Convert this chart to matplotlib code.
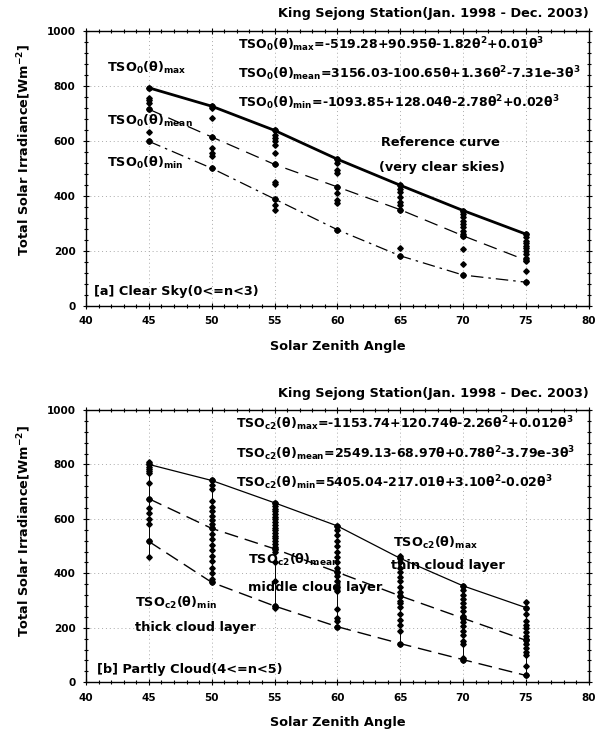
import matplotlib
matplotlib.use("Agg")
import matplotlib.pyplot as plt
from matplotlib.ticker import MultipleLocator

plt.rcParams['font.family'] = ['DejaVu Sans']
plt.rcParams['font.weight'] = 'bold'
plt.rcParams['mathtext.fontset'] = 'custom'
plt.rcParams['mathtext.rm'] = 'DejaVu Sans:bold'
plt.rcParams['mathtext.it'] = 'DejaVu Sans:bold'
plt.rcParams['mathtext.bf'] = 'DejaVu Sans:bold'

# зенитные углы
angles = [45, 50, 55, 60, 65, 70, 75]

# [a] ясное небо - кривые
a_max = [794, 727, 639, 534, 439, 347, 261]
a_mean = [716, 615, 515, 433, 350, 255, 166]
a_min = [599, 501, 389, 277, 182, 112, 86]

# [a] точки измерений по углам
a_pts = {
    45: [794, 756, 748, 740, 716, 632, 599],
    50: [727, 720, 683, 615, 575, 555, 545, 501],
    55: [639, 623, 610, 600, 587, 556, 515, 452, 445, 389, 366, 350],
    60: [534, 519, 494, 482, 433, 409, 384, 374, 277],
    65: [439, 427, 415, 396, 378, 366, 350, 212, 182],
    70: [347, 335, 323, 310, 298, 286, 274, 261, 255, 206, 151, 112],
    75: [261, 249, 237, 228, 218, 209, 200, 188, 175, 163, 126, 86],
}

# [b] переменная облачность - кривые
b_max = [800, 741, 659, 574, 455, 354, 274]
b_mean = [674, 565, 490, 404, 317, 235, 154]
b_min = [517, 367, 280, 204, 142, 83, 25]

b_pts = {
    45: [808, 800, 792, 784, 776, 768, 733, 674, 640, 620, 600, 582, 517, 459],
    50: [741, 725, 710, 665, 645, 630, 612, 594, 580, 565, 545, 525, 505, 485,
         465, 445, 420, 400, 380, 367],
    55: [659, 648, 638, 628, 618, 608, 598, 588, 578, 568, 558, 548, 538, 528,
         518, 508, 498, 490, 477, 440, 373, 280, 272],
    60: [574, 560, 540, 520, 500, 480, 460, 440, 420, 404, 390, 370, 350, 336,
         268, 237, 226, 204],
    65: [462, 455, 440, 420, 404, 385, 370, 350, 330, 317, 300, 290, 275, 250,
         230, 210, 190, 142],
    70: [354, 340, 320, 305, 290, 275, 260, 245, 235, 220, 205, 190, 175, 150,
         140, 90, 83],
    75: [296, 274, 250, 225, 212, 200, 185, 170, 160, 154, 140, 125, 110, 100,
         58, 25],
}

title = "King Sejong Station(Jan. 1998 - Dec. 2003)"
xlab = "Solar Zenith Angle"
ylab = r"Total Solar Irradiance[Wm$^{-2}$]"

a_eq = [r"TSO$_0$(θ)$_{max}$=-519.28+90.95θ-1.82θ$^2$+0.01θ$^3$",
        r"TSO$_0$(θ)$_{mean}$=3156.03-100.65θ+1.36θ$^2$-7.31e-3θ$^3$",
        r"TSO$_0$(θ)$_{min}$=-1093.85+128.04θ-2.78θ$^2$+0.02θ$^3$"]
b_eq = [r"TSO$_{c2}$(θ)$_{max}$=-1153.74+120.74θ-2.26θ$^2$+0.012θ$^3$",
        r"TSO$_{c2}$(θ)$_{mean}$=2549.13-68.97θ+0.78θ$^2$-3.79e-3θ$^3$",
        r"TSO$_{c2}$(θ)$_{min}$=5405.04-217.01θ+3.10θ$^2$-0.02θ$^3$"]

fs = 9.3     # подписи
fs_eq = 9.0  # уравнения
fs_tk = 7.5  # метки осей

fig = plt.figure(figsize=(5.95, 7.44), dpi=100)
ax1 = fig.add_axes([0.1445, 0.589, 0.845, 0.369])
ax2 = fig.add_axes([0.1445, 0.083, 0.845, 0.366])


def setup(ax, ylab_y):
    ax.set_xlim(40, 80)
    ax.set_ylim(0, 1000)
    ax.xaxis.set_major_locator(MultipleLocator(5))
    ax.xaxis.set_minor_locator(MultipleLocator(1))
    ax.yaxis.set_major_locator(MultipleLocator(200))
    ax.yaxis.set_minor_locator(MultipleLocator(40))
    ax.tick_params(which='both', direction='inout', top=True, right=True,
                   labelsize=fs_tk, width=0.8)
    ax.tick_params(which='major', length=5, pad=5)
    ax.tick_params(which='minor', length=2.5)
    for lbl in ax.get_xticklabels() + ax.get_yticklabels():
        lbl.set_fontweight('bold')
    ax.grid(True, which='major', color='#aaaaaa', linestyle=(0, (1, 3)),
            linewidth=0.7)
    for s in ax.spines.values():
        s.set_linewidth(1.0)
    ax.set_xlabel(xlab, fontsize=fs, fontweight='bold')
    ax.set_ylabel(ylab, fontsize=fs, fontweight='bold')
    ax.xaxis.set_label_coords(0.5, -0.125)
    ax.yaxis.set_label_coords(-0.105, ylab_y)


# --- панель [a]
setup(ax1, 0.567)
for ang, vals in a_pts.items():
    ax1.plot([ang] * len(vals), vals, 'D', color='black', ms=2.8)
ax1.plot(angles, a_max, '-', color='black', lw=2.0, marker='o', ms=3.5)
ax1.plot(angles, a_mean, color='black', lw=0.9, ls=(0, (11, 6)), marker='o', ms=3.5)
ax1.plot(angles, a_min, color='black', lw=0.9, ls=(0, (10, 4, 2, 4)), marker='o', ms=3.5)

for i, eq in enumerate(a_eq):
    ax1.text(52.1, 950 - i * 105, eq, fontsize=fs_eq, fontweight='bold', va='center')
ax1.text(41.7, 865, r"TSO$_0$(θ)$_{max}$", fontsize=fs, fontweight='bold', va='center')
ax1.text(41.7, 673, r"TSO$_0$(θ)$_{mean}$", fontsize=fs, fontweight='bold', va='center')
ax1.text(41.7, 520, r"TSO$_0$(θ)$_{min}$", fontsize=fs, fontweight='bold', va='center')
ax1.text(63.5, 593, "Reference curve", fontsize=fs, fontweight='bold', va='center')
ax1.text(63.3, 505, "(very clear skies)", fontsize=fs, fontweight='bold', va='center')
ax1.text(40.6, 52, "[a] Clear Sky(0<=n<3)", fontsize=fs, fontweight='bold', va='center')

# --- панель [b]
setup(ax2, 0.555)
for ang, vals in b_pts.items():
    ax2.vlines(ang, min(vals), max(vals), color='black', lw=0.7)
    ax2.plot([ang] * len(vals), vals, 'D', color='black', ms=2.8)
ax2.plot(angles, b_max, '-', color='black', lw=0.9, marker='o', ms=3.5)
ax2.plot(angles, b_mean, color='black', lw=1.0, ls=(0, (10, 5)), marker='o', ms=3.5)
ax2.plot(angles, b_min, color='black', lw=1.0, ls=(0, (10, 5)), marker='o', ms=3.5)

for i, eq in enumerate(b_eq):
    ax2.text(51.9, 948 - i * 108, eq, fontsize=fs_eq, fontweight='bold', va='center')
ax2.text(64.4, 511, r"TSO$_{c2}$(θ)$_{max}$", fontsize=fs, fontweight='bold', va='center')
ax2.text(64.3, 430, "thin cloud layer", fontsize=fs, fontweight='bold', va='center')
ax2.text(52.9, 449, r"TSO$_{c2}$(θ)$_{mean}$", fontsize=fs, fontweight='bold', va='center')
ax2.text(52.9, 349, "middle cloud layer", fontsize=fs, fontweight='bold', va='center')
ax2.text(43.9, 290, r"TSO$_{c2}$(θ)$_{min}$", fontsize=fs, fontweight='bold', va='center')
ax2.text(43.9, 202, "thick cloud layer", fontsize=fs, fontweight='bold', va='center')
ax2.text(40.9, 48, "[b] Partly Cloud(4<=n<5)", fontsize=fs, fontweight='bold', va='center')

fig.text(0.99, 1 - 14 / 744, title, ha='right', va='center', fontsize=fs, fontweight='bold')
fig.text(0.99, 1 - 393 / 744, title, ha='right', va='center', fontsize=fs, fontweight='bold')

fig.savefig("out.png", dpi=100)
